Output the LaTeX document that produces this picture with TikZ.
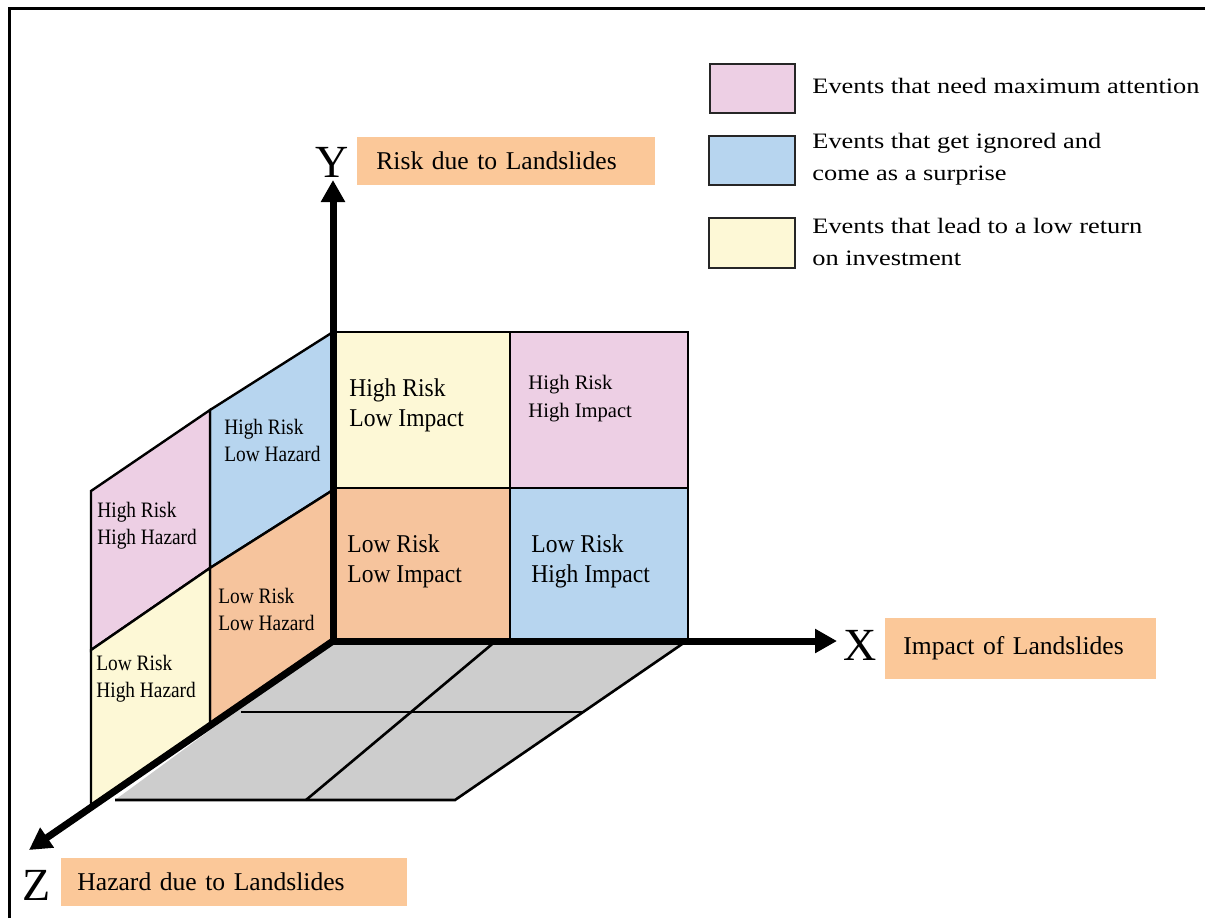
\documentclass[tikz,border=0pt]{standalone}
\usepackage{fontspec}
\setmainfont{Liberation Serif}
\newfontfamily\legfont[FakeStretch=1.2]{Liberation Serif}
\newfontfamily\condfont[FakeStretch=0.92]{Liberation Serif}
\newfontfamily\sidefont[FakeStretch=0.88]{Liberation Serif}
\usetikzlibrary{arrows.meta}
\definecolor{cpink}{HTML}{EDCFE4}
\definecolor{cblue}{HTML}{B7D5EF}
\definecolor{cyellow}{HTML}{FDF8D6}
\definecolor{corange}{HTML}{F6C49D}
\definecolor{clabel}{HTML}{FBC899}
\definecolor{cgray}{HTML}{CDCDCD}
\tikzset{
  cellline/.style={draw=black, line width=0.9pt, line join=miter},
  sideline/.style={draw=black, line width=1.2pt, line join=miter},
  floorline/.style={draw=black, line width=1.3pt},
  axisline/.style={line width=3.5pt, -{Triangle[length=11pt,width=11.5pt]}},
  celltxt/.style={align=left, anchor=west, inner sep=0pt},
  bigcell/.style={celltxt, font=\condfont\fontsize{12.8pt}{15pt}\selectfont},
  smallcell/.style={celltxt, font=\fontsize{10.3pt}{14pt}\selectfont},
  sidecell/.style={celltxt, font=\sidefont\fontsize{11pt}{13.5pt}\selectfont},
  axletter/.style={inner sep=0pt, font=\fontsize{23pt}{23pt}\selectfont},
  lblbox/.style={fill=clabel, anchor=west, align=left, inner ysep=0pt, font=\fontsize{12.8pt}{15pt}\selectfont},
  legbox/.style={draw=black!85, line width=1.2pt},
  legtxt/.style={anchor=west, align=left, inner sep=0pt, font=\legfont\fontsize{11pt}{16pt}\selectfont}
}
\begin{document}
\begin{tikzpicture}[x=0.5pt,y=-0.5pt]
\useasboundingbox (0,0) rectangle (1205,918);
% frame
\draw[line width=1.5pt] (9.5,918) -- (9.5,8.5) -- (1205,8.5);

% floor
\fill[cgray] (333,640) -- (688,640) -- (455,800) -- (115,800) -- cycle;
\draw[floorline] (688,640) -- (455,800) -- (115,800);
\draw[floorline] (241,712) -- (583,712);
\draw[floorline] (497,640) -- (306,800);

% left wall (Y-Z plane)
\filldraw[sideline, fill=cblue]   (333,332) -- (210,410) -- (210,568) -- (333,490) -- cycle;
\filldraw[sideline, fill=cpink]   (210,410) -- (91,491) -- (91,650) -- (210,568) -- cycle;
\filldraw[sideline, fill=corange] (333,490) -- (210,568) -- (210,727) -- (333,640) -- cycle;
\filldraw[sideline, fill=cyellow] (210,568) -- (91,650) -- (91,805) -- (210,727) -- cycle;

% back wall (X-Y plane)
\filldraw[cellline, fill=cyellow] (333,332) rectangle (510,488);
\filldraw[cellline, fill=cpink]   (510,332) rectangle (688,488);
\filldraw[cellline, fill=corange] (333,488) rectangle (510,640);
\filldraw[cellline, fill=cblue]   (510,488) rectangle (688,640);

% cell texts
\node[bigcell]   (hrli) at (349,405) {High Risk\\Low Impact};
\node[smallcell] (hrhi) at (528,399) {High Risk\\High Impact};
\node[bigcell]   (lrli) at (347,561) {Low Risk\\Low Impact};
\node[bigcell]   (lrhi) at (531,561) {Low Risk\\High Impact};
\node[sidecell]  (hrlh) at (224,440) {High Risk\\Low Hazard};
\node[sidecell]  (hrhh) at (97,526)  {High Risk\\High Hazard};
\node[sidecell]  (lrlh) at (218,609) {Low Risk\\Low Hazard};
\node[sidecell]  (lrhh) at (96,679)  {Low Risk\\High Hazard};

% axes
\coordinate (O) at (333,641);
\coordinate (Ytip) at (333,180);
\coordinate (Xtip) at (837,641);
\coordinate (Ztip) at (29,850);
\draw[axisline] (O) -- (Ytip);
\draw[axisline] (O) -- (Xtip);
\draw[axisline] (O) -- (Ztip);

% axis letters and labels
\node[axletter] (Y) at (332,162) {Y};
\node[axletter] (X) at (860,645) {X};
\node[axletter] (Z) at (37,885) {Z};
\node[lblbox, minimum height=24pt, inner xsep=9.5pt, text width=130pt] (ylab) at (357,161) {Risk due to Landslides};
\node[lblbox, minimum height=30.5pt, inner xsep=9pt, text width=117.5pt] (xlab) at (885,648) {Impact of Landslides};
\node[lblbox, minimum height=24pt, inner xsep=8pt, text width=157pt] (zlab) at (61,882) {Hazard due to Landslides};

% legend
\filldraw[legbox, fill=cpink]   (710,64) rectangle (795,113);
\filldraw[legbox, fill=cblue]   (709,136) rectangle (795,185);
\filldraw[legbox, fill=cyellow] (709,218) rectangle (795,268);
\node[legtxt] (leg1) at (812,86)  {Events that need maximum attention};
\node[legtxt] (leg2) at (812,159) {Events that get ignored and\\come as a surprise};
\node[legtxt] (leg3) at (812,242) {Events that lead to a low return\\on investment};
\end{tikzpicture}
\end{document}
